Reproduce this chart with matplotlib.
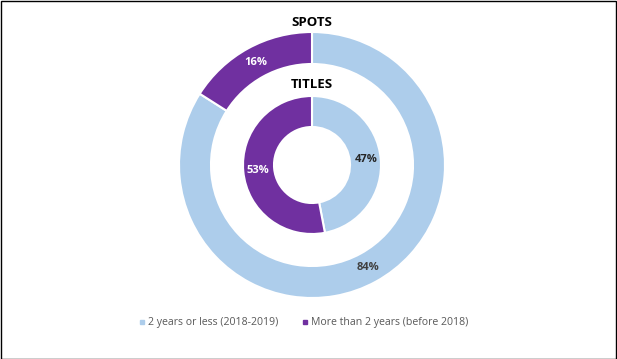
import matplotlib.pyplot as plt
from matplotlib.lines import Line2D
from matplotlib.patches import Rectangle
import numpy as np

categories = ['2 years or less (2018-2019)', 'More than 2 years (before 2018)']
spots = [84, 16]
titles = [47, 53]
colors = ['#ADCDEB', '#7030A0']

W, H = 617, 359
fig = plt.figure(figsize=(W / 100, H / 100), dpi=100)
ax = fig.add_axes([0, 0, 1, 1])
ax.set_aspect('equal')
ax.axis('off')

cx, cy = 312, H - 165
font = ['Open Sans', 'DejaVu Sans']

# outer ring - spots
ax.pie(spots, colors=colors, startangle=90, counterclock=False,
       center=(cx, cy), radius=133,
       wedgeprops=dict(width=32, edgecolor='white', linewidth=1.5))
# inner ring - titles
ax.pie(titles, colors=colors, startangle=90, counterclock=False,
       center=(cx, cy), radius=69,
       wedgeprops=dict(width=31, edgecolor='white', linewidth=1.5))
ax.set_xlim(0, W)
ax.set_ylim(0, H)


def label_ring(vals, r, colors_txt):
    start = 90
    for v, c in zip(vals, colors_txt):
        mid = start - v * 3.6 / 2
        start -= v * 3.6
        x = cx + r * np.cos(np.radians(mid))
        y = cy + r * np.sin(np.radians(mid))
        ax.text(x, y, f'{v}%', ha='center', va='center', fontsize=8,
                fontweight='bold', color=c, family=font)


label_ring(spots, 117, ['#404040', 'white'])
label_ring(titles, 54, ['#262626', 'white'])

ax.text(cx, H - 22, 'SPOTS', ha='center', va='center', fontsize=9.5,
        fontweight='bold', color='black', family=font)
ax.text(cx, H - 84, 'TITLES', ha='center', va='center', fontsize=9.5,
        fontweight='bold', color='black', family=font)

handles = [Line2D([], [], marker='s', ls='', color=c, markersize=3.5) for c in colors]
leg = ax.legend(handles, categories, loc='center', bbox_to_anchor=(304 / W, 1 - 323 / H),
                ncol=2, frameon=False, handlelength=0.5, handletextpad=0.3,
                columnspacing=2.3, prop={'family': font, 'size': 7.6})
for t in leg.get_texts():
    t.set_color('#595959')

fig.patches.append(Rectangle((0.5 / W, 0.5 / H), 1 - 1.5 / W, 1 - 1.5 / H,
                             transform=fig.transFigure, fill=False,
                             edgecolor='black', linewidth=1))

fig.savefig('out.png', dpi=100)
